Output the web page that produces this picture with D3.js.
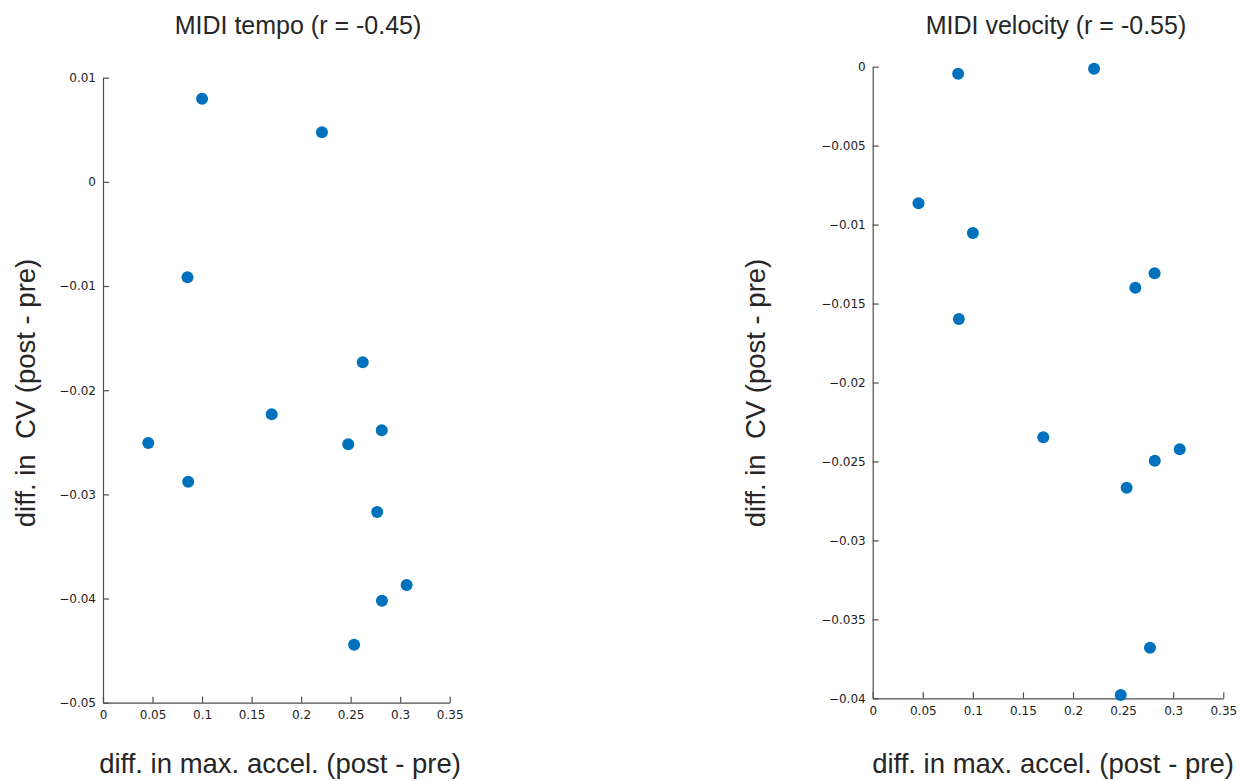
<!DOCTYPE html>
<html>
<head>
<meta charset="utf-8">
<script src="https://cdn.jsdelivr.net/npm/d3@7"></script>
<style>
  body { margin: 0; background: #fff; }
  .tick text { font-family: "DejaVu Sans", sans-serif; font-size: 12px; fill: #1e1e1e; }
  .axis path, .axis line { stroke: #4d4d4d; stroke-width: 1.2px; }
  .title, .label { font-family: "Liberation Sans", Arial, sans-serif; fill: #262626; }
</style>
</head>
<body>
<div id="viz"></div>
<script>
// per-subject difference in max. acceleration (post - pre)
var accel = [0.0457, 0.0853, 0.0860, 0.1000, 0.1703, 0.2210, 0.2476, 0.2535, 0.2622, 0.2768, 0.2814, 0.2816, 0.3065];
// diff. in CV (post - pre), same subject order
var tempoCV = [-0.02507, -0.00916, -0.02878, 0.00798, -0.02231, 0.00476, -0.02519, -0.04443, -0.01732, -0.03169, -0.02385, -0.04021, -0.0387];
var velocityCV = [-0.00865, -0.00044, -0.01598, -0.01053, -0.02347, -0.00013, -0.03979, -0.02666, -0.01400, -0.03680, -0.01308, -0.02495, -0.02423];

var xTicks = [0, 0.05, 0.1, 0.15, 0.2, 0.25, 0.3, 0.35];
var tempoTicks = [0.01, 0, -0.01, -0.02, -0.03, -0.04, -0.05];
var velocityTicks = [0, -0.005, -0.01, -0.015, -0.02, -0.025, -0.03, -0.035, -0.04];

var w = 1245, h = 781;
var dotColor = "#0072bd";

var svg = d3.select("#viz")
    .append("svg")
    .attr("width", w)
    .attr("height", h);

var fmt = d3.format("~g");

var panels = [
    { title: "MIDI tempo (r = -0.45)", cv: tempoCV, yDomain: [-0.05, 0.01], yTicks: tempoTicks,
      left: 103, right: 449.7, top: 77.7, bottom: 702.7, titleX: 298, xLabelX: 280, yLabelX: 35 },
    { title: "MIDI velocity (r = -0.55)", cv: velocityCV, yDomain: [-0.04, 0], yTicks: velocityTicks,
      left: 872.7, right: 1223.3, top: 66.7, bottom: 698.3, titleX: 1056, xLabelX: 1053, yLabelX: 765 }
];

panels.forEach(function(p) {
    var x = d3.scaleLinear().domain([0, 0.35]).range([p.left, p.right]);
    var y = d3.scaleLinear().domain(p.yDomain).range([p.bottom, p.top]);

    var g = svg.append("g");

    g.append("g")
        .attr("class", "axis")
        .attr("transform", "translate(0," + p.bottom + ")")
        .call(d3.axisBottom(x).tickValues(xTicks).tickFormat(fmt).tickSize(-6).tickSizeOuter(0).tickPadding(8));

    g.append("g")
        .attr("class", "axis")
        .attr("transform", "translate(" + p.left + ",0)")
        .call(d3.axisLeft(y).tickValues(p.yTicks).tickFormat(fmt).tickSize(-6).tickSizeOuter(0).tickPadding(7));

    g.append("g")
        .selectAll("circle")
        .data(accel.map(function(a, i) { return { x: a, y: p.cv[i] }; }))
        .enter()
        .append("circle")
        .attr("cx", function(d) { return x(d.x); })
        .attr("cy", function(d) { return y(d.y); })
        .attr("r", 6)
        .attr("fill", dotColor);

    g.append("text")
        .attr("class", "title")
        .attr("x", p.titleX)
        .attr("y", 34)
        .attr("text-anchor", "middle")
        .attr("font-size", "25px")
        .text(p.title);

    g.append("text")
        .attr("class", "label")
        .attr("x", p.xLabelX)
        .attr("y", 773)
        .attr("text-anchor", "middle")
        .attr("font-size", "27.5px")
        .text("diff. in max. accel. (post - pre)");

    g.append("text")
        .attr("class", "label")
        .attr("transform", "translate(" + p.yLabelX + "," + 393 + ") rotate(-90)")
        .attr("text-anchor", "middle")
        .attr("font-size", "27.5px")
        .style("white-space", "pre")
        .text("diff. in  CV (post - pre)");
});
</script>
</body>
</html>
